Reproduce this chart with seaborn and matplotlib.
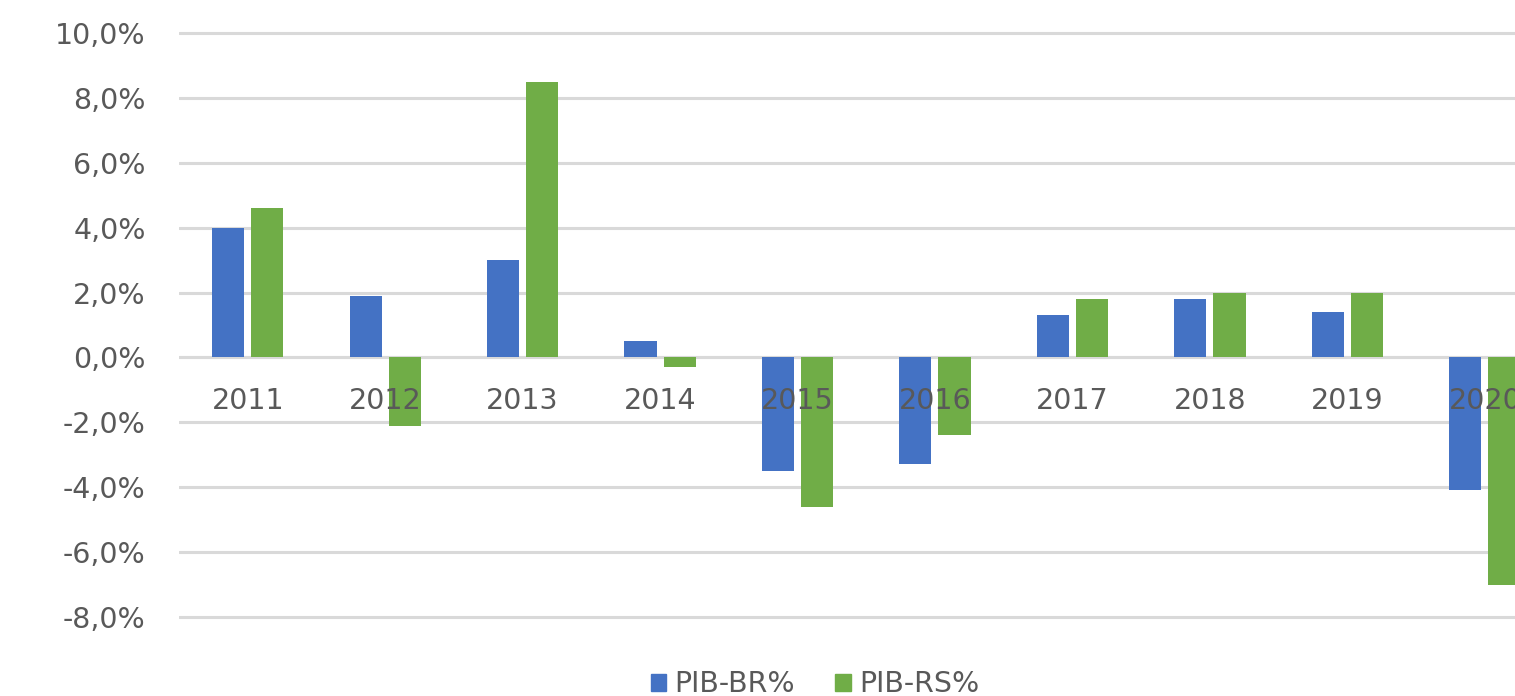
import pandas as pd
import numpy as np
from matplotlib import pyplot as plt
from matplotlib.ticker import FuncFormatter
import seaborn as sns

years = ["2011", "2012", "2013", "2014", "2015", "2016", "2017", "2018", "2019", "2020"]
pib_br = [4.0, 1.9, 3.0, 0.5, -3.5, -3.3, 1.3, 1.8, 1.4, -4.1]
pib_rs = [4.6, -2.1, 8.5, -0.3, -4.6, -2.4, 1.8, 2.0, 2.0, -7.0]
series = ["PIB-BR%", "PIB-RS%"]
colors = ["#4472C4", "#70AD47"]

df = pd.DataFrame({
    "ano": years * 2,
    "serie": [series[0]] * len(years) + [series[1]] * len(years),
    "valor": pib_br + pib_rs,
})

sns.set_style("white")
plt.rcParams["font.family"] = ["DejaVu Sans"]
text_color = "#595959"
grid_color = "#d9d9d9"
fsize = 20.5

fig = plt.figure(figsize=(15.15, 6.96), dpi=100)
ax = fig.add_axes([179 / 1515, 1 - 620.2 / 696, 1 - 179 / 1515, (620.2 - 29.8) / 696])

sns.barplot(data=df, x="ano", y="valor", hue="serie", hue_order=series,
            palette=colors, width=0.57, gap=0.18, saturation=1, linewidth=0,
            ax=ax, legend=False)

ax.set_ylim(-8.1, 10.1)
ax.set_xlim(-0.5, 9.22)
ax.set_yticks(np.arange(-8, 11, 2))
ax.yaxis.set_major_formatter(FuncFormatter(lambda v, p: f"{v:.1f}%".replace(".", ",")))
ax.yaxis.grid(True, color=grid_color, linewidth=2.2)
ax.axhline(0, color=grid_color, linewidth=2.2, zorder=0.6)
ax.set_axisbelow(True)
ax.xaxis.set_zorder(3)

for s in ax.spines.values():
    s.set_visible(False)
ax.spines["bottom"].set_position(("data", 0))

ax.tick_params(axis="y", length=0, pad=24, labelsize=fsize, labelcolor=text_color)
ax.tick_params(axis="x", length=0, pad=21, labelsize=fsize, labelcolor=text_color)
ax.set_xlabel("")
ax.set_ylabel("")

handles = [plt.Rectangle((0, 0), 1, 1, color=c) for c in colors]
fig.legend(handles, series, loc="center", bbox_to_anchor=(0.538, 0.017), ncol=2,
           frameon=False, fontsize=fsize, labelcolor=text_color,
           handlelength=0.55, handleheight=0.55, handletextpad=0.3, columnspacing=1.4)

plt.savefig("out.png", dpi=100)
